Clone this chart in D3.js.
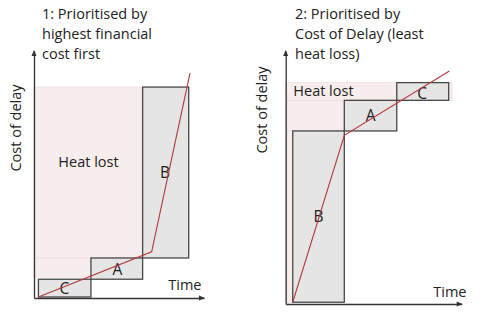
<!DOCTYPE html>
<html>
<head>
<meta charset="utf-8">
<script src="https://cdn.jsdelivr.net/npm/d3@7"></script>
<style>
  html, body { margin: 0; padding: 0; background: #fff; }
  svg { display: block; }
  text { font-family: "Open Sans", "Noto Sans", sans-serif; fill: #222; }
</style>
</head>
<body>
<svg id="chart" width="485" height="320"></svg>
<script>
// ---------- DATA (percent of axis length) ----------
// Panel 1: prioritised by highest financial cost first
const titles1 = ["1: Prioritised by", "highest financial", "cost first"];
const tasks1 = ["C", "A", "B"];
const start1 = [2.6, 33.5, 63.9];
const end1   = [33.5, 63.9, 91.0];
const low1   = [0.4, 7.6, 16.2];
const high1  = [7.6, 16.2, 85.4];
const curveX1 = [2.6, 69.2, 91.8];
const curveY1 = [0.4, 18.7, 91.1];
const heatX1 = [63.9, 33.5];
const heatLow1 = [16.2, 8.5];
const heatHigh1 = [85.4, 16.2];

// Panel 2: prioritised by cost of delay (least heat loss)
const titles2 = ["2: Prioritised by", "Cost of Delay (least", "heat loss)"];
const tasks2 = ["B", "A", "C"];
const start2 = [4.0, 33.3, 63.1];
const end2   = [33.3, 63.1, 92.6];
const low2   = [0.7, 68.4, 80.5];
const high2  = [68.4, 80.5, 87.5];
const curveX2 = [4.0, 33.3, 93.0];
const curveY2 = [0.7, 66.7, 92.1];
const heatX2 = [94.5, 33.3, 4.0];
const heatLow2 = [80.5, 68.4, 0.7];
const heatHigh2 = [87.5, 80.5, 68.4];

const labelX = "Time";
const labelY = "Cost of delay";
const heatLabel = "Heat lost";

// ---------- DRAW ----------
const svg = d3.select("#chart");

function panel(cfg) {
  const x = d3.scaleLinear().domain([0, 100]).range(cfg.xr);
  const y = d3.scaleLinear().domain([0, 100]).range(cfg.yr);
  const g = svg.append("g");

  // heat lost (pink) rects
  g.selectAll("rect.heat").data(cfg.heatX).join("rect")
    .attr("class", "heat")
    .attr("x", x(0))
    .attr("y", (d, i) => y(cfg.heatHigh[i]))
    .attr("width", d => x(d) - x(0))
    .attr("height", (d, i) => y(cfg.heatLow[i]) - y(cfg.heatHigh[i]))
    .attr("fill", "#f8eded")
    .attr("stroke", "#eedede")
    .attr("stroke-width", 0.8);

  // task boxes
  g.selectAll("rect.task").data(cfg.tasks).join("rect")
    .attr("class", "task")
    .attr("x", (d, i) => x(cfg.start[i]))
    .attr("y", (d, i) => y(cfg.high[i]))
    .attr("width", (d, i) => x(cfg.end[i]) - x(cfg.start[i]))
    .attr("height", (d, i) => y(cfg.low[i]) - y(cfg.high[i]))
    .attr("fill", "#e5e5e5")
    .attr("stroke", "#474747")
    .attr("stroke-width", 1.3);

  // task labels
  g.selectAll("text.task").data(cfg.tasks).join("text")
    .attr("class", "task")
    .attr("x", (d, i) => x(cfg.lx[i]))
    .attr("y", (d, i) => y(cfg.ly[i]))
    .attr("text-anchor", "middle")
    .attr("font-size", 15.5)
    .text(d => d);

  // axes (no ticks) via d3.axis
  const xa = d3.axisBottom(x).ticks(0).tickSizeOuter(0);
  const ya = d3.axisLeft(y).ticks(0).tickSizeOuter(0);
  g.append("g").attr("transform", `translate(0,${y(0)})`).call(xa)
    .select(".domain").attr("stroke", "#333").attr("stroke-width", 1.3);
  g.append("g").attr("transform", `translate(${x(0)},0)`).call(ya)
    .select(".domain").attr("stroke", "#333").attr("stroke-width", 1.3);
  // arrowheads
  const xe = x(100), y0 = y(0), x0 = x(0), ye = y(100);
  g.append("path").attr("d", `M${xe+1},${y0} L${xe-5},${y0-2.5} L${xe-5},${y0+2.5} Z`).attr("fill", "#333");
  g.append("path").attr("d", `M${x0},${ye-1} L${x0-2.5},${ye+5} L${x0+2.5},${ye+5} Z`).attr("fill", "#333");

  // cumulative cost line
  const line = d3.line().x(d => x(d[0])).y(d => y(d[1]));
  g.append("path")
    .datum(cfg.cx.map((v, i) => [v, cfg.cy[i]]))
    .attr("d", line)
    .attr("fill", "none")
    .attr("stroke", "#b5373a")
    .attr("stroke-width", 1.1);

  // titles
  g.selectAll("text.title").data(cfg.titles).join("text")
    .attr("class", "title")
    .attr("x", cfg.tx)
    .attr("y", (d, i) => 18.5 + i * 20.3)
    .attr("font-size", 14.5)
    .text(d => d);

  // axis labels
  g.append("text").attr("x", cfg.timeX).attr("y", cfg.timeY)
    .attr("text-anchor", "end").attr("font-size", 14.5).text(labelX);
  g.append("text")
    .attr("transform", `translate(${cfg.cdX},${cfg.cdY}) rotate(-90)`)
    .attr("text-anchor", "middle").attr("font-size", 14.5).text(labelY);

  // heat lost label
  g.append("text").attr("x", cfg.hx).attr("y", cfg.hy)
    .attr("text-anchor", cfg.hanchor).attr("font-size", 14.5).text(heatLabel);
}

panel({
  xr: [34, 204], yr: [298, 51],
  tasks: tasks1, start: start1, end: end1, low: low1, high: high1,
  lx: [17.8, 49.0, 77.0], ly: [1.5, 9.3, 48.6],
  cx: curveX1, cy: curveY1,
  heatX: heatX1, heatLow: heatLow1, heatHigh: heatHigh1,
  titles: titles1, tx: 42,
  timeX: 201.5, timeY: 289.5, cdX: 20.5, cdY: 128,
  hx: 88.5, hy: 167, hanchor: "middle"
});

panel({
  xr: [285.7, 461.7], yr: [304, 51],
  tasks: tasks2, start: start2, end: end2, low: low2, high: high2,
  lx: [18.7, 48.3, 77.5], ly: [32.4, 72.5, 81.0],
  cx: curveX2, cy: curveY2,
  heatX: heatX2, heatLow: heatLow2, heatHigh: heatHigh2,
  titles: titles2, tx: 295,
  timeX: 466.5, timeY: 296.5, cdX: 267, cdY: 110,
  hx: 293.3, hy: 96, hanchor: "start"
});
</script>
</body>
</html>
